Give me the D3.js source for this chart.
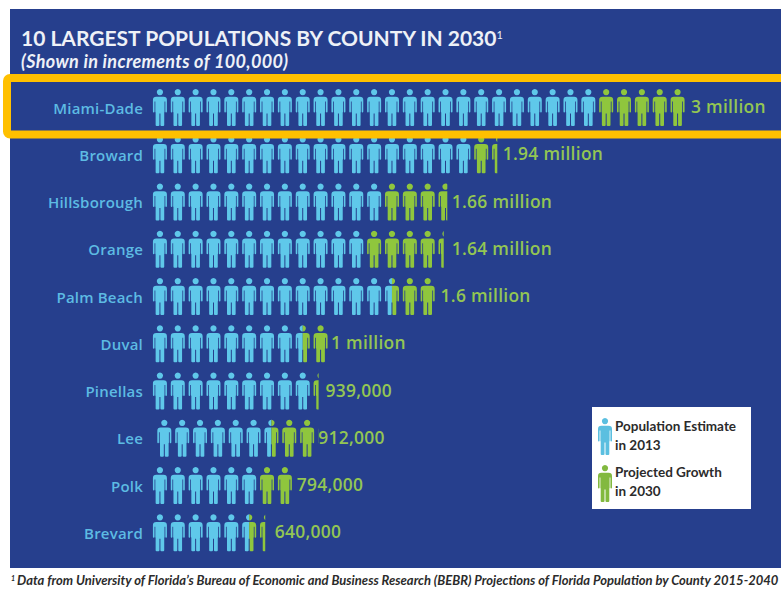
<!DOCTYPE html>
<html>
<head>
<meta charset="utf-8">
<title>10 Largest Populations by County in 2030</title>
<script src="https://cdnjs.cloudflare.com/ajax/libs/d3/7.8.5/d3.min.js"></script>
<style>
  html, body { margin: 0; padding: 0; background: #fff; }
  svg { display: block; }
  text { font-family: Lato, "Open Sans", sans-serif; }
  .humanist { font-family: "Open Sans", Lato, sans-serif; }
</style>
</head>
<body>
<div id="chart"></div>
<script>
// Counties, and their populations in units of 100,000 people (one figure each).
const counties = ["Miami-Dade", "Broward", "Hillsborough", "Orange", "Palm Beach", "Duval", "Pinellas", "Lee", "Polk", "Brevard"];
const estimate2013 = [25, 18, 13, 12, 13.5, 8.5, 9, 6.5, 6, 5.5];
const projected2030 = [30, 19.4, 16.6, 16.4, 16, 10, 9.39, 9.12, 7.94, 6.4];
const valueLabels = ["3 million", "1.94 million", "1.66 million", "1.64 million", "1.6 million", "1 million", "939,000", "912,000", "794,000", "640,000"];
const legendLabels = [["Population Estimate", "in 2013"], ["Projected Growth", "in 2030"]];
const titleText = "10 LARGEST POPULATIONS BY COUNTY IN 2030";
const subtitleText = "(Shown in increments of 100,000)";
const footnoteText = "Data from University of Florida\u2019s Bureau of Economic and Business Research (BEBR) Projections of Florida Population by County 2015-2040";

const W = 781, H = 600;
const NAVY = "#263f8d", ORANGE = "#ffc000", BLUE = "#5fc8ea", GREEN = "#8fc63d";
const LABEL_BLUE = "#5dbbe3", VALUE_GREEN = "#93c653";

const svg = d3.select("#chart").append("svg").attr("width", W).attr("height", H);
const defs = svg.append("defs");

// One standing person in a 14 x 37 box: head, torso with separate arms, two legs.
const PERSON_W = 14, PERSON_H = 37;
const personPath =
  "M7,0 a3.1,3.1 0 1 1 -0.01,0 Z" +
  "M3.4,7.8 H10.6 Q14,7.8 14,11 V22.5 Q14,23.4 13.2,23.4 Q12.4,23.4 12.4,22.5 V12.5 H11.6 V23 L11.3,23.5 V36 Q11.3,37 10.3,37 H8.5 Q7.5,37 7.5,36 V24.5 H6.5 V36 Q6.5,37 5.5,37 H3.7 Q2.7,37 2.7,36 V23.5 L2.4,23 V12.5 H1.6 V22.5 Q1.6,23.4 0.8,23.4 Q0,23.4 0,22.5 V11 Q0,7.8 3.4,7.8 Z";
defs.append("path").attr("id", "person").attr("d", personPath);

// Page background panel
svg.append("rect").attr("x", 10).attr("y", 9).attr("width", W - 10).attr("height", 559).attr("fill", NAVY);

// Heading
const title = svg.append("text").attr("x", 21).attr("y", 45.5)
  .attr("fill", "#eef1f7").attr("font-size", 21).attr("font-weight", 700);
title.append("tspan").text(titleText);
title.append("tspan").attr("dy", -7).attr("font-size", 11).attr("font-weight", 400).text("1");

svg.append("text").attr("x", 21).attr("y", 67.5)
  .attr("fill", "#eef1f7").attr("font-size", 18).attr("font-weight", 700).attr("font-style", "italic").attr("letter-spacing", 0.35)
  .text(subtitleText);

// One unit along x is one person figure
const x = d3.scaleLinear().domain([0, 30]).range([151, 686.5]);
const y = d3.scalePoint().domain(counties).range([107.5, 107.5 + 47.25 * 9]);

// Lee's row sits slightly right of the others in this layout
const rowShift = new Map([["Lee", 4.4]]);
// Breathing room between the last figure and its value label
const labelGap = new Map([["Miami-Dade", 4.5], ["Broward", 5.5], ["Hillsborough", 4.5], ["Orange", 8], ["Palm Beach", 4], ["Duval", 1.5], ["Pinellas", 7], ["Lee", 0], ["Polk", 4], ["Brevard", 9.5]]);

const rows = counties.map((county, i) => ({
  county, i, blue: estimate2013[i], total: projected2030[i], label: valueLabels[i]
}));

const row = svg.selectAll("g.row").data(rows).join("g")
  .attr("class", "row")
  .attr("transform", d => `translate(${rowShift.get(d.county) || 0},${y(d.county)})`);

// County names, right-aligned against the figures (Lee's stays with the column)
row.append("text").attr("class", "humanist")
  .attr("x", d => 143 - (rowShift.get(d.county) || 0))
  .attr("y", 6).attr("text-anchor", "end")
  .attr("fill", LABEL_BLUE).attr("font-size", 15).attr("font-weight", 600).attr("letter-spacing", 0.2)
  .text(d => d.county);

// Clip regions split each row into the 2013 part and the growth part
row.each(function (d) {
  defs.append("clipPath").attr("id", `est-${d.i}`).append("rect")
    .attr("x", x(0) - 1).attr("width", x(d.blue) - x(0) + 1).attr("y", -25).attr("height", 50);
  defs.append("clipPath").attr("id", `grow-${d.i}`).append("rect")
    .attr("x", x(d.blue)).attr("width", x(d.total) - x(d.blue)).attr("y", -25).attr("height", 50);
});

function drawFigures(sel, cls, colour, clipPrefix) {
  sel.append("g").attr("class", cls).attr("fill", colour)
    .attr("clip-path", d => `url(#${clipPrefix}-${d.i})`)
    .selectAll("use")
    .data(d => d3.range(Math.ceil(d.total)))
    .join("use")
    .attr("href", "#person")
    .attr("x", k => (x(k) + x(k + 1)) / 2 - PERSON_W / 2)
    .attr("y", -PERSON_H / 2);
}
drawFigures(row, "estimate", BLUE, "est");
drawFigures(row, "growth", GREEN, "grow");

// Value labels just past the last figure
row.append("text").attr("class", "humanist")
  .attr("x", d => x(d.total) + labelGap.get(d.county))
  .attr("y", 5.5)
  .attr("fill", VALUE_GREEN).attr("font-size", 17.4).attr("font-weight", 600).attr("letter-spacing", 0.3)
  .text(d => d.label);

// Highlight frame around the top county, running off the right edge
svg.append("rect").attr("x", 7).attr("y", 78).attr("width", W + 20).attr("height", 56.5).attr("rx", 3)
  .attr("fill", "none").attr("stroke", ORANGE).attr("stroke-width", 8);

// Legend
const legend = svg.append("g");
legend.append("rect").attr("x", 592).attr("y", 407).attr("width", 159).attr("height", 102).attr("fill", "#fff");
const legendEntries = [
  { colour: "#5bbfe0", top: 418, lines: legendLabels[0], base: 431 },
  { colour: "#82b93f", top: 465, lines: legendLabels[1], base: 477 }
];
legendEntries.forEach(e => {
  legend.append("use").attr("href", "#person").attr("x", 598).attr("y", e.top).attr("fill", e.colour);
  e.lines.forEach((line, j) => {
    legend.append("text").attr("x", 615).attr("y", e.base + j * 19)
      .attr("fill", "#2b2b2b").attr("font-size", 13.5).attr("font-weight", 700).text(line);
  });
});

// Source note under the panel
const note = svg.append("text").attr("x", 11).attr("y", 585)
  .attr("fill", "#2b2b2b").attr("font-size", 13).attr("font-weight", 700).attr("font-style", "italic");
note.append("tspan").attr("dy", -4).attr("font-size", 7).text("1");
note.append("tspan").attr("dy", 4).attr("dx", 2).text(footnoteText);
</script>
</body>
</html>
